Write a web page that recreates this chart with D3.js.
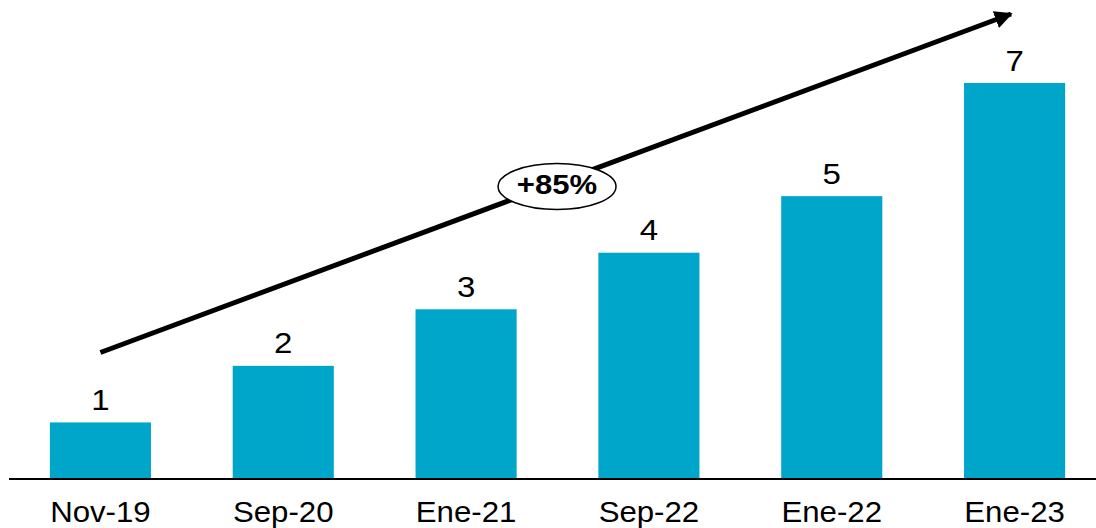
<!DOCTYPE html>
<html>
<head>
<meta charset="utf-8">
<script src="https://cdn.jsdelivr.net/npm/d3@7/dist/d3.min.js"></script>
<style>
html,body{margin:0;padding:0;background:#fff;}
svg{display:block;font-family:"Liberation Sans",Arial,sans-serif;}
</style>
</head>
<body>
<svg id="chart" width="1096" height="528"></svg>
<script>
const categories = ["Nov-19","Sep-20","Ene-21","Sep-22","Ene-22","Ene-23"];
const values = [1,2,3,4,5,7];
const growthLabel = "+85%";

const W = 1096, H = 528;
const svg = d3.select("#chart");

const x = d3.scaleBand().domain(categories).range([9,1106]).paddingInner(0.447).paddingOuter(0.2235);
const y = d3.scaleLinear().domain([0,7]).range([479,83]);

// bars
svg.append("g").selectAll("rect").data(values).join("rect")
  .attr("x",(d,i)=>x(categories[i]))
  .attr("y",d=>y(d))
  .attr("width",x.bandwidth())
  .attr("height",d=>y(0)-y(d))
  .attr("fill","#00a6c9");

// value labels
svg.append("g").selectAll("text").data(values).join("text")
  .attr("transform",(d,i)=>`translate(${x(categories[i])+x.bandwidth()/2},${y(d)-12.5}) scale(1.1,1)`)
  .attr("text-anchor","middle")
  .attr("font-size",30)
  .attr("fill","#000")
  .text(d=>d);

// baseline axis
const xAxis = d3.axisBottom(x).tickSize(0).tickPadding(0);
const ax = svg.append("g").attr("transform",`translate(0,${y(0)})`).call(xAxis);
ax.select(".domain").remove();
ax.selectAll("text").attr("font-size",30).attr("fill","#000")
  .attr("font-family","Liberation Sans, Arial, sans-serif")
  .attr("dy",null).attr("y",0)
  .attr("transform","translate(0,42.7) scale(1.04,1)");
svg.append("line").attr("x1",9).attr("x2",W).attr("y1",y(0)).attr("y2",y(0))
  .attr("stroke","#000").attr("stroke-width",2);

// arrow
const defs = svg.append("defs");
defs.append("marker").attr("id","ah").attr("viewBox","0 0 10 10")
  .attr("refX",9).attr("refY",5).attr("markerWidth",3.6).attr("markerHeight",3.6)
  .attr("orient","auto").attr("markerUnits","strokeWidth")
  .append("path").attr("d","M0,0 L10,5 L0,10 Z").attr("fill","#000");

const x0 = x(categories[0])+x.bandwidth()/2;
svg.append("line").attr("x1",x0).attr("y1",352.5).attr("x2",1011).attr("y2",14)
  .attr("stroke","#000").attr("stroke-width",5).attr("marker-end","url(#ah)");

// ellipse label
svg.append("ellipse").attr("cx",557).attr("cy",186.5).attr("rx",59).attr("ry",23)
  .attr("fill","#fff").attr("stroke","#000").attr("stroke-width",1.5);
svg.append("text").attr("transform","translate(557,194.3) scale(1.11,1)").attr("text-anchor","middle")
  .attr("font-size",28).attr("font-weight","bold").attr("fill","#000")
  .text(growthLabel);
</script>
</body>
</html>
